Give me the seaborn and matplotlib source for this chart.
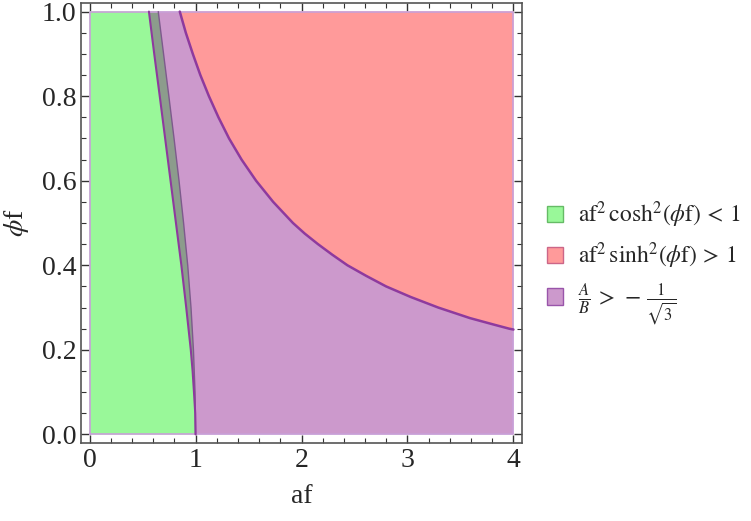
import matplotlib
matplotlib.use("Agg")
import matplotlib.pyplot as plt
from matplotlib.patches import Patch
from matplotlib.ticker import MultipleLocator
import seaborn as sns

# values (phi_f, a_f)
green_phi = [0.0, 0.1, 0.2, 0.3, 0.4, 0.5, 0.6, 0.7, 0.8, 0.9, 1.0]
green_af = [1.0, 0.995, 0.980, 0.957, 0.926, 0.887, 0.844, 0.797, 0.748, 0.698, 0.648]

purple_phi = [0.0, 0.05, 0.1, 0.15, 0.2, 0.3, 0.4, 0.5, 0.6, 0.7, 0.8, 0.9, 1.0]
purple_af = [1.0, 0.997, 0.985, 0.972, 0.955, 0.912, 0.866, 0.815, 0.764, 0.713, 0.662, 0.61, 0.56]

red_phi = [1.0, 0.95, 0.9, 0.85, 0.8, 0.75, 0.7, 0.65, 0.6, 0.55, 0.5, 0.475,
           0.45, 0.425, 0.4, 0.375, 0.35, 0.325, 0.3, 0.275, 0.26, 0.25, 0.248]
red_af = [0.851, 0.908, 0.974, 1.045, 1.126, 1.216, 1.316, 1.434, 1.571, 1.732, 1.919, 2.03,
          2.155, 2.29, 2.433, 2.61, 2.798, 3.03, 3.290, 3.59, 3.81, 3.96, 4.0]

legend_labels = [r"$\mathrm{af}^2\,\mathrm{cosh}^2(\phi\mathrm{f})\,<\,1$",
                 r"$\mathrm{af}^2\,\mathrm{sinh}^2(\phi\mathrm{f})\,>\,1$",
                 r"$\frac{A}{B}\,>\,-\,\frac{1}{\sqrt{3}}$"]

c_green = "#99f899"
c_red = "#ff9a9a"
c_purple = "#cc99cc"
c_gray = "#8c9c8c"
c_edge = "#8e3a9e"

sns.set_style("ticks")
plt.rcParams["font.family"] = ["Liberation Serif", "DejaVu Serif"]
plt.rcParams["mathtext.fontset"] = "stix"

fig = plt.figure(figsize=(7.51, 5.21), dpi=100)
ax = fig.add_axes([0.108, 0.150, 0.587, 0.844])

# green region
ax.fill([0.0] + green_af + [0.0], [0.0] + green_phi + [1.0], color=c_green, lw=0)
# purple region: left curve, then the red curve back down, then the bottom edge
ax.fill(purple_af + red_af + [4.0],
        purple_phi + red_phi + [0.0], color=c_purple, lw=0)
# overlap of green and purple
ax.fill(purple_af + green_af[::-1], purple_phi + green_phi[::-1], color=c_gray, lw=0)
# red region
ax.fill(red_af + [4.0], red_phi + [1.0], color=c_red, lw=0)

# outline of the plotted range
ax.plot([0, 4, 4, 0, 0], [0, 0, 1, 1, 0], color="#c8a0d8", lw=1.2)

sns.lineplot(x=green_af, y=green_phi, sort=False, estimator=None,
             color="#7d5a8c", lw=1.0, ax=ax)
sns.lineplot(x=purple_af, y=purple_phi, sort=False, estimator=None,
             color=c_edge, lw=1.5, ax=ax)
sns.lineplot(x=red_af, y=red_phi, sort=False, estimator=None,
             color=c_edge, lw=1.8, ax=ax)

ax.set_xlim(-0.08, 4.08)
ax.set_ylim(-0.02, 1.02)
ax.xaxis.set_major_locator(MultipleLocator(1))
ax.xaxis.set_minor_locator(MultipleLocator(0.2))
ax.yaxis.set_major_locator(MultipleLocator(0.2))
ax.yaxis.set_minor_locator(MultipleLocator(0.05))
ax.set_yticks([0.0, 0.2, 0.4, 0.6, 0.8, 1.0])
ax.set_yticklabels(["0.0", "0.2", "0.4", "0.6", "0.8", "1.0"])
ax.tick_params(which="both", direction="in", top=True, right=True,
               color="#333333", labelsize=20)
ax.tick_params(which="major", length=6, width=1)
ax.tick_params(which="minor", length=3.5, width=0.8)
for s in ax.spines.values():
    s.set_color("#555555")
    s.set_linewidth(1.2)

ax.set_xlabel("af", fontsize=20, labelpad=8)
ax.set_ylabel(r"$\phi$f", fontsize=20, labelpad=8)

handles = [Patch(facecolor=c_green, edgecolor="#66bb66"),
           Patch(facecolor=c_red, edgecolor="#cc6688"),
           Patch(facecolor=c_purple, edgecolor="#9955aa")]
fig.legend(handles, legend_labels, loc="center left",
           bbox_to_anchor=(0.70, 0.495), frameon=False, fontsize=17,
           handlelength=0.7, handleheight=0.7, handletextpad=0.6,
           labelspacing=0.45)

fig.savefig("out.png", dpi=100)
